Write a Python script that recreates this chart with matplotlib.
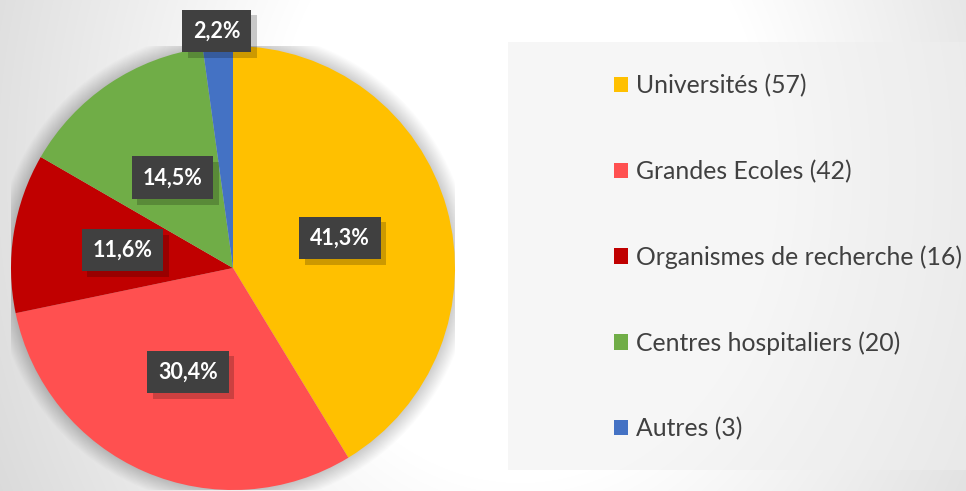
import numpy as np
import matplotlib
matplotlib.use("Agg")
import matplotlib.pyplot as plt
from matplotlib.patches import Circle, Rectangle
from matplotlib import patheffects as pe

# ---- data ----
categories = ["Universités", "Grandes Ecoles", "Organismes de recherche",
              "Centres hospitaliers", "Autres"]
counts = [57, 42, 16, 20, 3]
colors = ["#FFC000", "#FF5050", "#C00000", "#70AD47", "#4472C4"]
label_dist = [0.50, 0.51, 0.505, 0.49, 1.07]

W, H = 966, 491
fig = plt.figure(figsize=(W / 100, H / 100), dpi=100)

# ---- background gradient ----
bg = fig.add_axes([0, 0, 1, 1], zorder=-10)
yy, xx = np.mgrid[0:H, 0:W]
d = np.sqrt((xx - 520.0) ** 2 + ((yy - 170.0) / 1.25) ** 2)
v = np.clip(255 - 0.11 * np.clip(d - 250, 0, None), 0, 255) / 255.0
bg.imshow(np.dstack([v, v, v]), extent=[0, W, H, 0], aspect="auto", interpolation="bilinear")
bg.set_xlim(0, W)
bg.set_ylim(H, 0)
bg.axis("off")

# legend panel
bg.add_patch(Rectangle((508, 42), W - 508, 428, facecolor="#efefef", alpha=0.5,
                       edgecolor="none"))

# ---- pie ----
cx, cy, R = 233, 268, 222
ax = fig.add_axes([(cx - R) / W, (H - cy - R) / H, 2 * R / W, 2 * R / H])
ax.set_facecolor("none")

# soft shadow around pie
for k in range(16):
    ax.add_patch(Circle((0, 0), 1.0 + 0.0045 * (k + 1), facecolor="black",
                        alpha=0.012, edgecolor="none", zorder=0))

wedges, _, autotexts = ax.pie(
    counts, colors=colors, startangle=90, counterclock=False,
    autopct=lambda p: f"{p:.1f}%".replace(".", ","), pctdistance=0.5,
    wedgeprops=dict(linewidth=0, zorder=1), textprops=dict(zorder=5))

ax.set_xlim(-1, 1)
ax.set_ylim(-1, 1)
ax.set_aspect("equal")
ax.axis("off")

for w, t, rd in zip(wedges, autotexts, label_dist):
    mid = np.deg2rad((w.theta1 + w.theta2) / 2)
    t.set_position((rd * np.cos(mid), rd * np.sin(mid)))
    t.set_color("white")
    t.set_fontfamily("Lato")
    t.set_fontweight("bold")
    t.set_fontsize(15.5)
    t.set_clip_on(False)
    t.set_bbox(dict(boxstyle="square,pad=0.5", facecolor="#404040",
                    edgecolor="none", linewidth=0))
    t.get_bbox_patch().set_path_effects([
        pe.SimplePatchShadow(offset=(4, -4), shadow_rgbFace="black", alpha=0.2),
        pe.Normal()])

# ---- legend ----
labels = [f"{c} ({n})" for c, n in zip(categories, counts)]
leg = fig.legend(wedges, labels, loc="upper left",
                 bbox_to_anchor=(614 / W, 1 - 74 / H), frameon=False,
                 prop=dict(family="Lato", size=17.8), labelcolor="#404040",
                 handlelength=0.57, handleheight=0.57, handletextpad=0.3,
                 labelspacing=2.52, borderpad=0, borderaxespad=0)

fig.savefig("out.png", dpi=100)
